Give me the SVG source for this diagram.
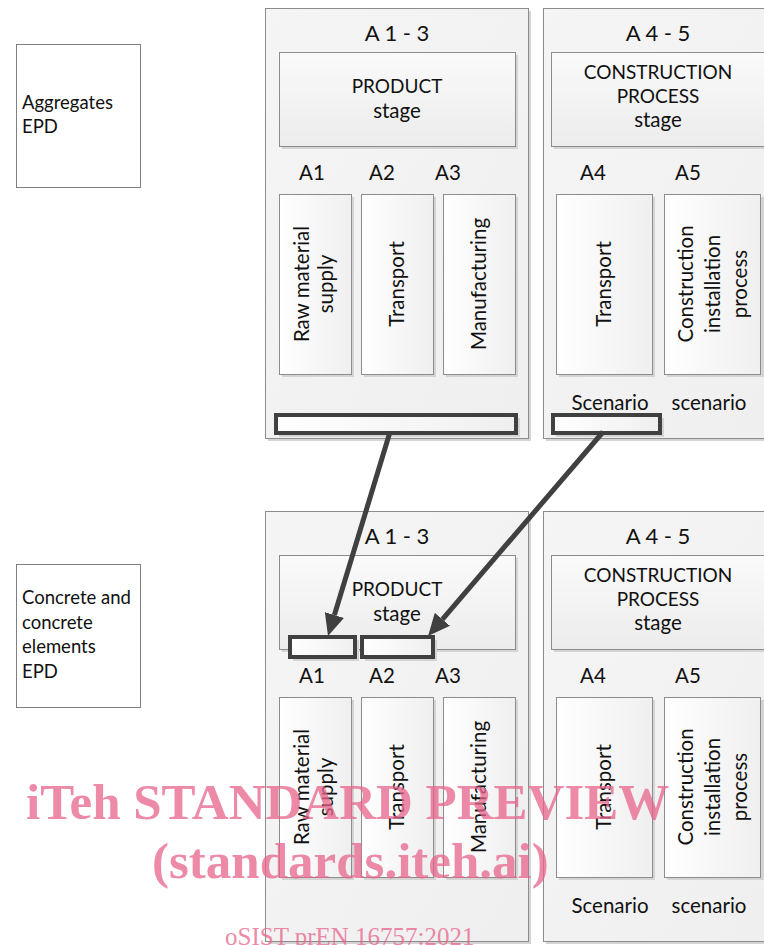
<svg xmlns="http://www.w3.org/2000/svg" width="764" height="945" viewBox="0 0 764 945">
<style>
.t{font-family:Lato,"Liberation Sans",sans-serif;font-size:20.5px;fill:#111}
.cap{font-size:19px}
.hd{font-size:22px}
.lf{font-size:18.5px}
.c{text-anchor:middle}
.epd{fill:#fff;stroke:#808080;stroke-width:1}
.cont{fill:url(#gc);stroke:#8c8c8c;stroke-width:1}
.stg{fill:url(#gs);stroke:#8c8c8c;stroke-width:1}
.sub{fill:url(#gb);stroke:#8c8c8c;stroke-width:1}
.sh{fill:#d4d4d4}
.bar{fill:url(#gb);stroke:#404040;stroke-width:4}
.arr{stroke:#404040;stroke-width:5;fill:none;marker-end:url(#ah)}
.wm{font-family:"Liberation Serif",serif;fill:#e8648c;opacity:0.75}
</style>
<defs>
<linearGradient id="gc" x1="0" y1="0" x2="1" y2="1"><stop offset="0" stop-color="#f5f5f5"/><stop offset="1" stop-color="#efefef"/></linearGradient>
<linearGradient id="gs" x1="0" y1="0" x2="0" y2="1"><stop offset="0" stop-color="#fafafa"/><stop offset="1" stop-color="#ececec"/></linearGradient>
<linearGradient id="gb" x1="0" y1="0" x2="1" y2="0"><stop offset="0" stop-color="#ffffff"/><stop offset="1" stop-color="#efefef"/></linearGradient>
<marker id="ah" viewBox="0 0 22 20" refX="0" refY="10" markerWidth="22" markerHeight="20" markerUnits="userSpaceOnUse" orient="auto"><path d="M0,0 L22,10 L0,20 z" fill="#404040"/></marker>
</defs>

<g id="aggregates-epd">
<rect class="epd" x="16.5" y="44.5" width="124" height="143"/>
<text class="t lf" x="22" y="109">Aggregates</text>
<text class="t lf" x="22" y="133">EPD</text>
</g>

<g id="concrete-epd">
<rect class="epd" x="16.5" y="564.5" width="124" height="143"/>
<text class="t lf" x="22" y="604">Concrete and</text>
<text class="t lf" x="22" y="629">concrete</text>
<text class="t lf" x="22" y="653">elements</text>
<text class="t lf" x="22" y="678">EPD</text>
</g>

<!-- top section -->
<g id="top-a13">
<rect class="sh" x="268" y="11" width="263" height="430"/>
<rect class="cont" x="265.5" y="8.5" width="263" height="430"/>
<text class="t hd c" x="397" y="41">A 1 - 3</text>
<rect class="sh" x="282" y="55" width="236" height="94"/>
<rect class="stg" x="279.5" y="52.5" width="236" height="94"/>
<text class="t cap c" x="397" y="93">PRODUCT</text>
<text class="t c" x="397" y="118">stage</text>
<text class="t c" x="312" y="180">A1</text>
<text class="t c" x="382" y="180">A2</text>
<text class="t c" x="448" y="180">A3</text>
</g>
<g id="top-a1">
<rect class="sh" x="282" y="197" width="72" height="180"/>
<rect class="sub" x="279.5" y="194.5" width="72" height="180"/>
<text class="t c" transform="translate(315,284) rotate(-90)"><tspan x="0" y="-6">Raw material</tspan><tspan x="0" y="18">supply</tspan></text>
</g>
<g id="top-a2">
<rect class="sh" x="364" y="197" width="72" height="180"/>
<rect class="sub" x="361.5" y="194.5" width="72" height="180"/>
<text class="t c" transform="translate(397,284) rotate(-90)" x="0" y="7">Transport</text>
</g>
<g id="top-a3">
<rect class="sh" x="446" y="197" width="72" height="180"/>
<rect class="sub" x="443.5" y="194.5" width="72" height="180"/>
<text class="t c" transform="translate(479,284) rotate(-90)" x="0" y="7">Manufacturing</text>
</g>
<g id="top-bar-a13">
<rect class="sh" x="279" y="418" width="241" height="19"/>
<rect class="bar" x="276" y="415" width="240" height="18"/>
</g>

<g id="top-a45">
<rect class="sh" x="546" y="11" width="230" height="430"/>
<rect class="cont" x="543.5" y="8.5" width="230" height="430"/>
<text class="t hd c" x="658" y="41">A 4 - 5</text>
<rect class="sh" x="554" y="55" width="220" height="94"/>
<rect class="stg" x="551.5" y="52.5" width="220" height="94"/>
<text class="t cap c" x="658" y="79">CONSTRUCTION</text>
<text class="t cap c" x="658" y="103">PROCESS</text>
<text class="t c" x="658" y="127">stage</text>
<text class="t c" x="593" y="180">A4</text>
<text class="t c" x="688" y="180">A5</text>
<text class="t c" x="610" y="410">Scenario</text>
<text class="t c" x="709" y="410">scenario</text>
</g>
<g id="top-a4">
<rect class="sh" x="559" y="197" width="96" height="180"/>
<rect class="sub" x="556.5" y="194.5" width="96" height="180"/>
<text class="t c" transform="translate(604,284) rotate(-90)" x="0" y="7">Transport</text>
</g>
<g id="top-a5">
<rect class="sh" x="667" y="197" width="97" height="180"/>
<rect class="sub" x="664.5" y="194.5" width="96" height="180"/>
<text class="t c" transform="translate(713,284) rotate(-90)"><tspan x="0" y="-20">Construction</tspan><tspan x="0" y="7">installation</tspan><tspan x="0" y="34">process</tspan></text>
</g>
<g id="top-bar-a4">
<rect class="sh" x="556" y="418" width="108" height="19"/>
<rect class="bar" x="553" y="415" width="107" height="18"/>
</g>

<!-- bottom section -->
<g id="bot-a13">
<rect class="sh" x="268" y="514" width="263" height="430"/>
<rect class="cont" x="265.5" y="511.5" width="263" height="430"/>
<text class="t hd c" x="397" y="544">A 1 - 3</text>
<rect class="sh" x="282" y="558" width="236" height="94"/>
<rect class="stg" x="279.5" y="555.5" width="236" height="94"/>
<text class="t cap c" x="397" y="596">PRODUCT</text>
<text class="t c" x="397" y="621">stage</text>
<text class="t c" x="312" y="683">A1</text>
<text class="t c" x="382" y="683">A2</text>
<text class="t c" x="448" y="683">A3</text>
</g>
<g id="bot-a1">
<rect class="sh" x="282" y="700" width="72" height="180"/>
<rect class="sub" x="279.5" y="697.5" width="72" height="180"/>
<text class="t c" transform="translate(315,787) rotate(-90)"><tspan x="0" y="-6">Raw material</tspan><tspan x="0" y="18">supply</tspan></text>
</g>
<g id="bot-a2">
<rect class="sh" x="364" y="700" width="72" height="180"/>
<rect class="sub" x="361.5" y="697.5" width="72" height="180"/>
<text class="t c" transform="translate(397,787) rotate(-90)" x="0" y="7">Transport</text>
</g>
<g id="bot-a3">
<rect class="sh" x="446" y="700" width="72" height="180"/>
<rect class="sub" x="443.5" y="697.5" width="72" height="180"/>
<text class="t c" transform="translate(479,787) rotate(-90)" x="0" y="7">Manufacturing</text>
</g>
<g id="bot-bar-a1">
<rect class="sh" x="293" y="640" width="66" height="21"/>
<rect class="bar" x="290" y="637" width="65" height="20"/>
</g>
<g id="bot-bar-a2">
<rect class="sh" x="365" y="640" width="72" height="21"/>
<rect class="bar" x="362" y="637" width="71" height="20"/>
</g>

<g id="bot-a45">
<rect class="sh" x="546" y="514" width="230" height="430"/>
<rect class="cont" x="543.5" y="511.5" width="230" height="430"/>
<text class="t hd c" x="658" y="544">A 4 - 5</text>
<rect class="sh" x="554" y="558" width="220" height="94"/>
<rect class="stg" x="551.5" y="555.5" width="220" height="94"/>
<text class="t cap c" x="658" y="582">CONSTRUCTION</text>
<text class="t cap c" x="658" y="606">PROCESS</text>
<text class="t c" x="658" y="630">stage</text>
<text class="t c" x="593" y="683">A4</text>
<text class="t c" x="688" y="683">A5</text>
<text class="t c" x="610" y="913">Scenario</text>
<text class="t c" x="709" y="913">scenario</text>
</g>
<g id="bot-a4">
<rect class="sh" x="559" y="700" width="96" height="180"/>
<rect class="sub" x="556.5" y="697.5" width="96" height="180"/>
<text class="t c" transform="translate(604,787) rotate(-90)" x="0" y="7">Transport</text>
</g>
<g id="bot-a5">
<rect class="sh" x="667" y="700" width="97" height="180"/>
<rect class="sub" x="664.5" y="697.5" width="96" height="180"/>
<text class="t c" transform="translate(713,787) rotate(-90)"><tspan x="0" y="-20">Construction</tspan><tspan x="0" y="7">installation</tspan><tspan x="0" y="34">process</tspan></text>
</g>

<g id="connectors">
<line class="arr" x1="390" y1="432" x2="334.4" y2="615"/>
<line class="arr" x1="603" y1="432" x2="442.4" y2="619.3"/>
</g>

<g id="watermark">
<text class="wm" x="26" y="819" font-size="51" font-weight="bold">iTeh STANDARD PREVIEW</text>
<text class="wm" x="152" y="878" font-size="51" font-weight="bold">(standards.iteh.ai)</text>
<text class="wm" x="225" y="945" font-size="25">oSIST prEN 16757:2021</text>
</g>
</svg>
